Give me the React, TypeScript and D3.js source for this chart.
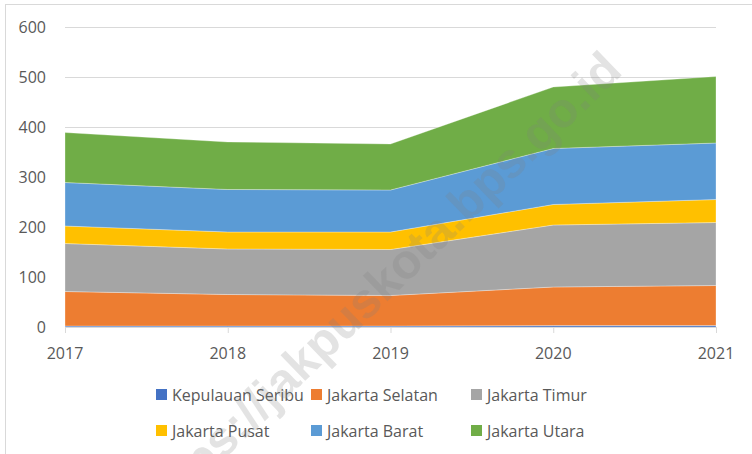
import React from "react";
import * as d3 from "d3";

const years = ["2017", "2018", "2019", "2020", "2021"];
const seriesNames = [
  "Kepulauan Seribu",
  "Jakarta Selatan",
  "Jakarta Timur",
  "Jakarta Pusat",
  "Jakarta Barat",
  "Jakarta Utara",
];
const kepulauanSeribu = [2, 2, 2, 3, 3];
const jakartaSelatan = [69, 63, 61, 77, 80];
const jakartaTimur = [96, 91, 92, 124, 126];
const jakartaPusat = [35, 34, 35, 41, 46];
const jakartaBarat = [87, 85, 84, 112, 113];
const jakartaUtara = [100, 95, 92, 123, 133];
const colors = ["#4472C4", "#ED7D31", "#A5A5A5", "#FFC000", "#5B9BD5", "#70AD47"];
const yTicks = [0, 100, 200, 300, 400, 500, 600];

const W = 752;
const H = 454;
const FONT = "'Open Sans', sans-serif";
const TEXT = "#595959";

export default function App() {
  const values = [kepulauanSeribu, jakartaSelatan, jakartaTimur, jakartaPusat, jakartaBarat, jakartaUtara];
  const rows = years.map((y, i) => {
    const r: any = { year: y };
    seriesNames.forEach((n, k) => (r[n] = values[k][i]));
    return r;
  });
  const stacked = d3.stack<any>().keys(seriesNames)(rows);

  const x = d3.scalePoint<string>().domain(years).range([65, 716]);
  const y = d3.scaleLinear().domain([0, 600]).range([327, 27]);

  const area = d3
    .area<any>()
    .x((d) => x(d.data.year) as number)
    .y0((d) => y(d[0]))
    .y1((d) => y(d[1]));

  const legendCols = [156, 311, 471];
  const legendRows = [394.5, 430.5];

  return (
    <svg width={W} height={H} style={{ position: "absolute", left: 0, top: 0 }}>
      <rect x={0} y={0} width={W} height={H} fill="#fff" />
      <rect x={5.5} y={4.5} width={W + 10} height={H + 10} fill="none" stroke="#d9d9d9" strokeWidth={1} />
      {yTicks.map((t) => (
        <g key={t}>
          <line x1={65} x2={716} y1={y(t) + 0.5} y2={y(t) + 0.5} stroke="#d9d9d9" strokeWidth={1} />
          <text
            x={46}
            y={y(t)}
            textAnchor="end"
            dominantBaseline="central"
            fontFamily={FONT}
            fontSize={16}
            fill={TEXT}
          >
            {t}
          </text>
        </g>
      ))}
      {stacked.map((s, i) => (
        <path key={s.key} d={area(s) as string} fill={colors[i]} stroke="#ffffff" strokeWidth={0.5} strokeOpacity={0.6} />
      ))}
      <line x1={65} x2={716} y1={327.5} y2={327.5} stroke="#d9d9d9" strokeWidth={1} />
      {years.map((yr) => (
        <g key={yr}>
          <line x1={(x(yr) as number) + 0.5} x2={(x(yr) as number) + 0.5} y1={327} y2={333} stroke="#d9d9d9" />
          <text
            x={x(yr) as number}
            y={353}
            textAnchor="middle"
            dominantBaseline="central"
            fontFamily={FONT}
            fontSize={16}
            fill={TEXT}
          >
            {yr}
          </text>
        </g>
      ))}
      {seriesNames.map((n, i) => {
        const cx = legendCols[i % 3];
        const cy = legendRows[Math.floor(i / 3)];
        return (
          <g key={n}>
            <rect x={cx} y={cy - 5.5} width={11} height={11} fill={colors[i]} />
            <text x={cx + 16} y={cy} dominantBaseline="central" fontFamily={FONT} fontSize={16} fill={TEXT}>
              {n}
            </text>
          </g>
        );
      })}
      <text
        transform="translate(624,73) rotate(-44)"
        textAnchor="end"
        fontFamily="'Liberation Sans', Arial, sans-serif"
        fontWeight="bold"
        fontSize={49}
        fill="#7f7f7f"
        fillOpacity={0.22}
      >
        https://jakpuskota.bps.go.id
      </text>
    </svg>
  );
}
